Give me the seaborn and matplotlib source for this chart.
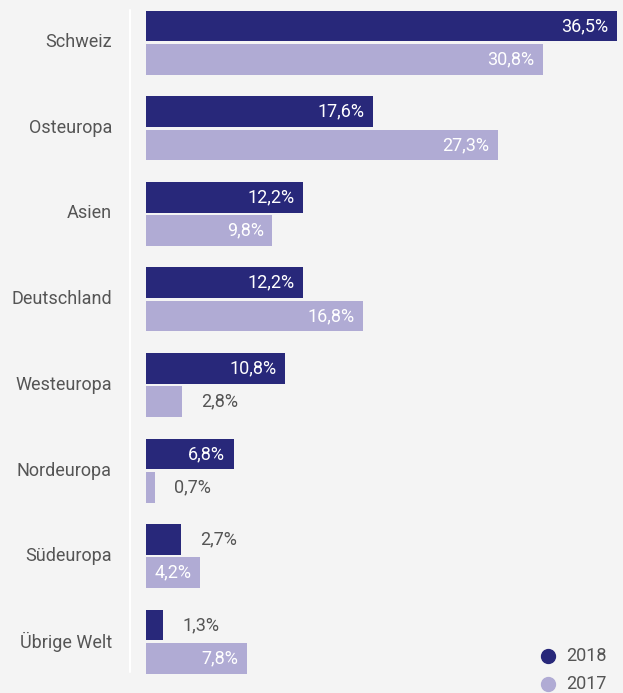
import matplotlib
matplotlib.use("Agg")
import matplotlib.pyplot as plt
from matplotlib import font_manager
from matplotlib.lines import Line2D
import seaborn as sns
import pandas as pd

regions = ["Schweiz", "Osteuropa", "Asien", "Deutschland", "Westeuropa",
           "Nordeuropa", "Südeuropa", "Übrige Welt"]
share_2018 = [36.5, 17.6, 12.2, 12.2, 10.8, 6.8, 2.7, 1.3]
share_2017 = [30.8, 27.3, 9.8, 16.8, 2.8, 0.7, 4.2, 7.8]
years = ["2018", "2017"]

dark = "#28287a"
light = "#b0abd4"
bg = "#f4f4f4"
text_col = "#555555"

df = pd.DataFrame({
    "Region": regions * 2,
    "Jahr": [years[0]] * len(regions) + [years[1]] * len(regions),
    "Anteil": share_2018 + share_2017,
})

sns.set_theme(style="white")
names = {f.name for f in font_manager.fontManager.ttflist}
family = "Liberation Sans Narrow" if "Liberation Sans Narrow" in names else "Roboto"
plt.rcParams["font.family"] = [family, "DejaVu Sans"]

fig = plt.figure(figsize=(6.23, 6.93), dpi=100, facecolor=bg)
ax = fig.add_axes([146 / 623, 0, 1 - 146 / 623, 1])
ax.set_facecolor(bg)

sns.barplot(data=df, y="Region", x="Anteil", hue="Jahr", order=regions,
            hue_order=years, palette=[dark, light], orient="h",
            width=0.78, gap=0.08, saturation=1, legend=False, linewidth=0,
            ax=ax)

ax.set_xlim(0, 37.0)
ax.set_ylim(7.6, -0.5)
ax.set_xlabel("")
ax.set_ylabel("")
ax.set_xticks([])
ax.set_yticks([])
for s in ax.spines.values():
    s.set_visible(False)

fs = 13
for container in ax.containers:
    for bar, val in zip(container.patches, container.datavalues):
        y = bar.get_y() + bar.get_height() / 2
        x = bar.get_width()
        label = f"{val:.1f}".replace(".", ",") + "%"
        if val >= 4:
            ax.annotate(label, (x, y), xytext=(-6, 0), textcoords="offset points",
                        ha="right", va="center", color="white", fontsize=fs)
        else:
            ax.annotate(label, (x, y), xytext=(14, 0), textcoords="offset points",
                        ha="left", va="center", color=text_col, fontsize=fs)

# category labels, right-aligned left of the divider
for i, r in enumerate(regions):
    fig.text(112 / 623, 1 - (42 + i * 85.7) / 693, r, ha="right", va="center",
             color=text_col, fontsize=fs)

# thin white divider
fig.add_artist(Line2D([129.5 / 623] * 2, [1 - 10 / 693, 1 - 672 / 693],
                      color="white", lw=1.5))

# legend
for k, (yr, c) in enumerate(zip(years, [dark, light])):
    yy = 1 - (656 + k * 28) / 693
    fig.add_artist(Line2D([548 / 623], [yy], marker="o", markersize=10,
                          color=c, linestyle="none"))
    fig.text(566 / 623, yy, yr, ha="left", va="center", color=text_col, fontsize=fs)

fig.savefig("out.png", dpi=100, facecolor=bg)
